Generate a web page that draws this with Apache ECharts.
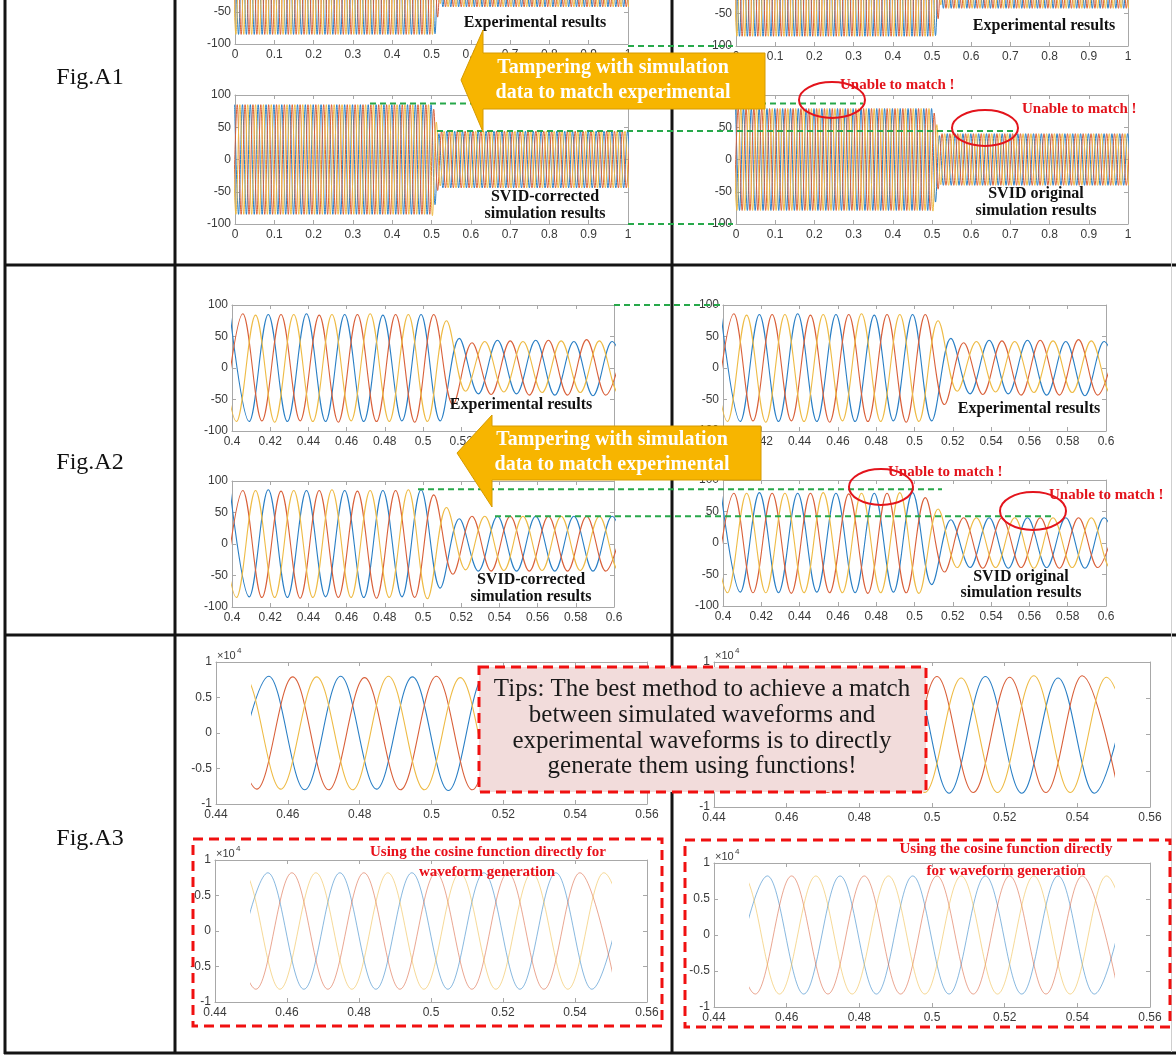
<!DOCTYPE html>
<html>
<head>
<meta charset="utf-8">
<script src="https://cdn.jsdelivr.net/npm/echarts@6.0.0/dist/echarts.min.js"></script>
<style>
html,body{margin:0;padding:0;background:#ffffff;}
#chart{width:1176px;height:1055px;}
</style>
</head>
<body>
<div id="chart"></div>
<script>
// ================= DATA =================
// Three-phase 50 Hz waveforms. Successive extrema of the three phases occur every 1/6 cycle,
// in the phase order yellow, red, blue, yellow, ...; each value below is one extremum (peak or trough).
const EXTREMUM_STEP = 0.02 / 6;

// Fig.A1 (0 - 1 s): runs of [number of extrema, peak magnitude]; signs alternate, first extremum positive
const a1Start = -0.00767;
const a1ExpRuns  = [[153, 85], [1, 85], [1, 85], [1, 84], [1, 75], [1, 58], [1, 47], [1, 37], [1, 40], [146, 42]];
const a1CorrRuns = [[153, 85], [1, 87], [1, 78], [1, 70], [1, 58], [1, 48], [1, 40], [1, 41], [1, 44], [146, 44]];
const a1OrigRuns = [[153, 79], [1, 80], [1, 72], [1, 66], [1, 54], [1, 46], [1, 37], [1, 39], [1, 40], [146, 40]];

// Fig.A2 (0.4 - 0.6 s): signed extremum values
const a2Start = 0.39233;
const a2Exp = [
  85, -84, 85, -85, 86, -85, 84, -84, 85, -86,
  85, -85, 85, -84, 86, -85, 84, -85, 85, -86,
  85, -84, 85, -85, 86, -85, 84, -85, 85, -84,
  85, -86, 85,
  -85, 85, -84, 75, -58, 47, -37, 40,
  -41, 42, -42, 44, -38, 43, -41, 42, -43, 44,
  -39, 44, -43, 43, -43, 42, -39, 45, -44, 43,
  -43, 42, -40, 44, -42, 43
];
const a2Corr = [
  85, -85, 86, -85, 85, -84, 85, -85, 86, -85,
  84, -85, 85, -86, 85, -85, 85, -84, 86, -85,
  85, -85, 84, -85, 85, -86, 85, -85, 85, -84,
  86, -85, 86,
  -87, 78, -70, 58, -48, 40, -41, 44,
  -43, 44, -43, 44, -42, 44, -43, 44, -43, 44,
  -42, 44, -43, 44, -43, 44, -42, 44, -43, 44,
  -43, 44, -42, 44, -43, 44
];
const a2Orig = [
  79, -79, 80, -79, 79, -78, 79, -79, 80, -79,
  79, -79, 79, -80, 79, -79, 79, -78, 80, -79,
  79, -79, 78, -79, 79, -80, 79, -79, 79, -78,
  80, -79, 80,
  -80, 72, -66, 54, -46, 37, -39, 40,
  -39, 40, -40, 40, -39, 40, -40, 40, -39, 40,
  -40, 40, -39, 40, -40, 40, -39, 40, -40, 40,
  -39, 40, -40, 40, -39, 40
];

// Fig.A3 (0.45 - 0.55 s, in units of 10^4): signed extremum values
const a3Start = 0.43803;
const a3Range = [0.45, 0.55];
const a3Exp = [
  -0.79, 0.80, -0.80, 0.79, -0.79, 0.80, -0.79, 0.79, -0.80, 0.79,
  -0.80, 0.80, -0.80, 0.78, -0.79, 0.80, -0.80, 0.79, -0.80, 0.80,
  -0.81, 0.78, -0.80, 0.80, -0.80, 0.79, -0.81, 0.81, -0.80, 0.78,
  -0.80, 0.81, -0.81, 0.79, -0.81, 0.80, -0.80
];
const a3Cos = [
  -0.82, 0.82, -0.82, 0.82, -0.82, 0.82, -0.82, 0.82, -0.82, 0.82,
  -0.82, 0.82, -0.82, 0.82, -0.82, 0.82, -0.82, 0.82, -0.82, 0.82,
  -0.82, 0.82, -0.82, 0.82, -0.82, 0.82, -0.82, 0.82, -0.82, 0.82,
  -0.82, 0.82, -0.82, 0.82, -0.82, 0.82, -0.82
];

// Axis ranges / ticks [min, max, interval]
const a1XTicks = [0, 1, 0.1];
const a2XTicks = [0.4, 0.6, 0.02];
const a3XTicks = [0.44, 0.56, 0.02];
const ampYTicks = [-100, 100, 50];
const a3YTicks = [-1, 1, 0.5];

// Guide levels (dashed green lines)
const a1GuideLevels = [87, 44];
const a2GuideLevels = [87, 44];

// Texts
const figLabels = ['Fig.A1', 'Fig.A2', 'Fig.A3'];
const arrowText = ['Tampering with simulation', 'data to match experimental'];
const tipsText = ['Tips: The best method to achieve a match', 'between simulated waveforms and',
                  'experimental waveforms is to directly', 'generate them using functions!'];

// ================= BUILD =================
const SANS = '"Liberation Sans", Arial, Helvetica, sans-serif';
const SERIF = '"Liberation Serif", "Times New Roman", serif';
const COLORS = {blue: '#2a7fc5', red: '#d9603a', yellow: '#eebb45'};
const PHASE_CYCLE = ['yellow', 'red', 'blue'];
const DRAW_ORDER = ['blue', 'red', 'yellow'];
const AXIS_COLOR = '#a8a8a8';

function expandRuns(runs) {
  const mags = [];
  runs.forEach(r => { for (let i = 0; i < r[0]; i++) mags.push(r[1]); });
  return mags.map((m, i) => (i % 2 === 0 ? m : -m));
}

const sets = {
  a1Exp: {start: a1Start, values: expandRuns(a1ExpRuns)},
  a1Corr: {start: a1Start, values: expandRuns(a1CorrRuns)},
  a1Orig: {start: a1Start, values: expandRuns(a1OrigRuns)},
  a2Exp: {start: a2Start, values: a2Exp},
  a2Corr: {start: a2Start, values: a2Corr},
  a2Orig: {start: a2Start, values: a2Orig},
  a3Exp: {start: a3Start, values: a3Exp},
  a3Cos: {start: a3Start, values: a3Cos}
};

function phaseData(set) {
  const b = {yellow: [], red: [], blue: []};
  set.values.forEach((v, i) => { b[PHASE_CYCLE[i % 3]].push([set.start + i * EXTREMUM_STEP, v]); });
  return b;
}

// panel layout: [left, top, width, height]
const panels = [
  {rect: [235, -84, 393, 128], x: a1XTicks, y: ampYTicks, set: 'a1Exp', lw: 1},
  {rect: [235, 95, 393, 129], x: a1XTicks, y: ampYTicks, set: 'a1Corr', lw: 1},
  {rect: [736, -84, 392, 130], x: a1XTicks, y: ampYTicks, set: 'a1Exp', lw: 1},
  {rect: [736, 95, 392, 129], x: a1XTicks, y: ampYTicks, set: 'a1Orig', lw: 1},
  {rect: [232, 305, 382, 126], x: a2XTicks, y: ampYTicks, set: 'a2Exp', lw: 1.1},
  {rect: [232, 481, 382, 126], x: a2XTicks, y: ampYTicks, set: 'a2Corr', lw: 1.1},
  {rect: [723, 305, 383, 126], x: a2XTicks, y: ampYTicks, set: 'a2Exp', lw: 1.1},
  {rect: [723, 480, 383, 126], x: a2XTicks, y: ampYTicks, set: 'a2Orig', lw: 1.1},
  {rect: [216, 662, 431, 142], x: a3XTicks, y: a3YTicks, set: 'a3Exp', lw: 1.1, sub: true},
  {rect: [714, 662, 436, 145], x: a3XTicks, y: a3YTicks, set: 'a3Exp', lw: 1.1, sub: true},
  {rect: [215, 860, 432, 142], x: a3XTicks, y: a3YTicks, set: 'a3Cos', lw: 0.8, sub: true, opacity: 0.7},
  {rect: [714, 863, 436, 144], x: a3XTicks, y: a3YTicks, set: 'a3Cos', lw: 0.8, sub: true, opacity: 0.7}
];

function axis(gi, t, pos, labels, show) {
  return {
    type: 'value', gridIndex: gi, position: pos, min: t[0], max: t[1], interval: t[2], show: show,
    axisLine: {show: true, onZero: false, lineStyle: {color: AXIS_COLOR, width: 1}},
    axisTick: {show: true, inside: true, length: 4, lineStyle: {color: AXIS_COLOR, width: 1}},
    axisLabel: {show: labels, color: '#3a3a3a', fontSize: 12, fontFamily: SANS,
                margin: (pos === 'bottom' ? 5 : 4), showMinLabel: true, showMaxLabel: true, hideOverlap: false},
    splitLine: {show: false}, axisPointer: {show: false}
  };
}

const grids = [], xAxes = [], yAxes = [], series = [];
panels.forEach((p, gi) => {
  grids.push({left: p.rect[0], top: p.rect[1], width: p.rect[2], height: p.rect[3], containLabel: false, outerBoundsMode: 'none'});
  xAxes.push(axis(gi, p.x, 'bottom', true, true));
  xAxes.push(axis(gi, p.x, 'top', false, true));
  yAxes.push(axis(gi, p.y, 'left', true, true));
  yAxes.push(axis(gi, p.y, 'right', false, true));
});

panels.forEach((p, gi) => {
  let xi = 2 * gi, yi = 2 * gi;
  if (p.sub) {
    // data grid covering exactly the recorded time span, aligned to the visible axes
    const [l, t, w, h] = p.rect;
    const span = p.x[1] - p.x[0];
    const dl = l + w * (a3Range[0] - p.x[0]) / span;
    const dw = w * (a3Range[1] - a3Range[0]) / span;
    const ng = grids.length;
    grids.push({left: dl, top: t, width: dw, height: h, containLabel: false, outerBoundsMode: 'none'});
    xAxes.push({type: 'value', gridIndex: ng, min: a3Range[0], max: a3Range[1], show: false});
    yAxes.push({type: 'value', gridIndex: ng, min: p.y[0], max: p.y[1], show: false});
    xi = xAxes.length - 1; yi = yAxes.length - 1;
  }
  const b = phaseData(sets[p.set]);
  DRAW_ORDER.forEach(ph => {
    series.push({
      type: 'line', xAxisIndex: xi, yAxisIndex: yi, data: b[ph], smooth: 0.36,
      symbol: 'none', silent: true, clip: true, animation: false,
      lineStyle: {color: COLORS[ph], width: p.lw, opacity: p.opacity || 1}
    });
  });
});

const chart = echarts.init(document.getElementById('chart'), null, {renderer: 'canvas'});
chart.setOption({
  backgroundColor: '#ffffff',
  animation: false,
  grid: grids, xAxis: xAxes, yAxis: yAxes, series: series
});

// ================= ANNOTATIONS =================
const G = [];
const txt = (x, y, text, font, fill, align, z, vAlign) => G.push({
  type: 'text', x: x, y: y, z: z || 30, silent: true,
  style: {text: text, font: font, fill: fill, textAlign: align || 'center', textVerticalAlign: vAlign || 'middle'}
});
const yAt = (gi, v) => chart.convertToPixel({xAxisIndex: 2 * gi, yAxisIndex: 2 * gi}, [panels[gi].x[0], v])[1];
const dashed = (x1, x2, y) => G.push({type: 'line', z: 10, silent: true,
  shape: {x1: x1, y1: y, x2: x2, y2: y}, style: {stroke: '#27a84a', lineWidth: 2, lineDash: [6, 4]}});

// table rules
[[5, 0, 5, 1054], [175, 0, 175, 1054], [672, 0, 672, 1054], [4, 265, 1176, 265], [4, 635, 1176, 635], [4, 1053, 1176, 1053]]
  .forEach(l => G.push({type: 'line', z: 1, silent: true, shape: {x1: l[0], y1: l[1], x2: l[2], y2: l[3]},
    style: {stroke: '#141414', lineWidth: 3}}));
G.push({type: 'line', z: 1, silent: true, shape: {x1: 1171.5, y1: 0, x2: 1171.5, y2: 1052}, style: {stroke: '#cfcfcf', lineWidth: 1}});

// row labels
txt(90, 78, figLabels[0], '24px ' + SERIF, '#111');
txt(90, 463, figLabels[1], '24px ' + SERIF, '#111');
txt(90, 839, figLabels[2], '24px ' + SERIF, '#111');

// green dashed guides
dashed(370, 863, yAt(1, a1GuideLevels[0]));
dashed(437, 1013, yAt(1, a1GuideLevels[1]));
dashed(628, 733, yAt(2, ampYTicks[0]));
dashed(628, 733, yAt(1, ampYTicks[0]));
dashed(614, 720, yAt(4, ampYTicks[1]));
dashed(418, 942, yAt(5, a2GuideLevels[0]));
dashed(495, 1053, yAt(5, a2GuideLevels[1]));

// plot captions
const capFont = 'bold 16px ' + SERIF;
txt(535, 23, 'Experimental results', capFont, '#111');
txt(1044, 26, 'Experimental results', capFont, '#111');
txt(545, 197, 'SVID-corrected', capFont, '#111');
txt(545, 214, 'simulation results', capFont, '#111');
txt(1036, 194, 'SVID original', capFont, '#111');
txt(1036, 211, 'simulation results', capFont, '#111');
txt(521, 405, 'Experimental results', capFont, '#111');
txt(1029, 409, 'Experimental results', capFont, '#111');
txt(531, 580, 'SVID-corrected', capFont, '#111');
txt(531, 597, 'simulation results', capFont, '#111');
txt(1021, 577, 'SVID original', capFont, '#111');
txt(1021, 593, 'simulation results', capFont, '#111');

// "Unable to match" ellipses and notes
const redFont = 'bold 15px ' + SERIF;
[[832, 100, 33, 18], [985, 128, 33, 18], [881, 487, 32, 18], [1033, 511, 33, 19]].forEach(e =>
  G.push({type: 'ellipse', z: 25, silent: true, shape: {cx: e[0], cy: e[1], rx: e[2], ry: e[3]},
    style: {fill: 'none', stroke: '#e3141c', lineWidth: 2}}));
txt(840, 85, 'Unable to match !', redFont, '#e3141c', 'left', 26);
txt(1022, 109, 'Unable to match !', redFont, '#e3141c', 'left', 26);
txt(888, 472, 'Unable to match !', redFont, '#e3141c', 'left', 26);
txt(1049, 495, 'Unable to match !', redFont, '#e3141c', 'left', 26);

// arrows
const arrow = (pts, cx, y1, y2) => {
  G.push({type: 'polygon', z: 40, silent: true, shape: {points: pts},
    style: {fill: '#f7b500', stroke: '#d69a00', lineWidth: 1}});
  txt(cx, y1, arrowText[0], 'bold 20px ' + SERIF, '#ffffff', 'center', 41);
  txt(cx, y2, arrowText[1], 'bold 20px ' + SERIF, '#ffffff', 'center', 41);
};
arrow([[461, 80], [483, 30], [483, 53], [765, 53], [765, 109], [483, 109], [483, 132]], 613, 68, 93);
arrow([[457, 453], [492, 415], [492, 426], [761, 426], [761, 480], [492, 480], [492, 507]], 612, 440, 465);

// x10^4 exponent labels
panels.forEach(p => {
  if (!p.sub) return;
  txt(p.rect[0] + 1, p.rect[1] - 6, '×10', '11px ' + SANS, '#3a3a3a', 'left', 5);
  txt(p.rect[0] + 21, p.rect[1] - 11, '4', '8px ' + SANS, '#3a3a3a', 'left', 5);
});

// Tips box
G.push({type: 'rect', z: 45, silent: true, shape: {x: 479, y: 667, width: 447, height: 125},
  style: {fill: '#f2dcdb', stroke: '#f01010', lineWidth: 3, lineDash: [10, 6]}});
[689, 715, 741, 766].forEach((y, i) => txt(702, y, tipsText[i], '25px ' + SERIF, '#1a1a1a', 'center', 46));

// cosine boxes
G.push({type: 'rect', z: 20, silent: true, shape: {x: 193, y: 839, width: 469, height: 187},
  style: {fill: 'none', stroke: '#f01010', lineWidth: 3, lineDash: [10, 6]}});
G.push({type: 'rect', z: 20, silent: true, shape: {x: 685, y: 840, width: 485, height: 187},
  style: {fill: 'none', stroke: '#f01010', lineWidth: 3, lineDash: [10, 6]}});
const cosFont = 'bold 15px ' + SERIF;
txt(488, 852, 'Using the cosine function directly for', cosFont, '#e8101a', 'center', 26);
txt(487, 872, 'waveform generation', cosFont, '#e8101a', 'center', 26);
txt(1006, 849, 'Using the cosine function directly', cosFont, '#e8101a', 'center', 26);
txt(1006, 871, 'for waveform generation', cosFont, '#e8101a', 'center', 26);

chart.setOption({graphic: G});
</script>
</body>
</html>
